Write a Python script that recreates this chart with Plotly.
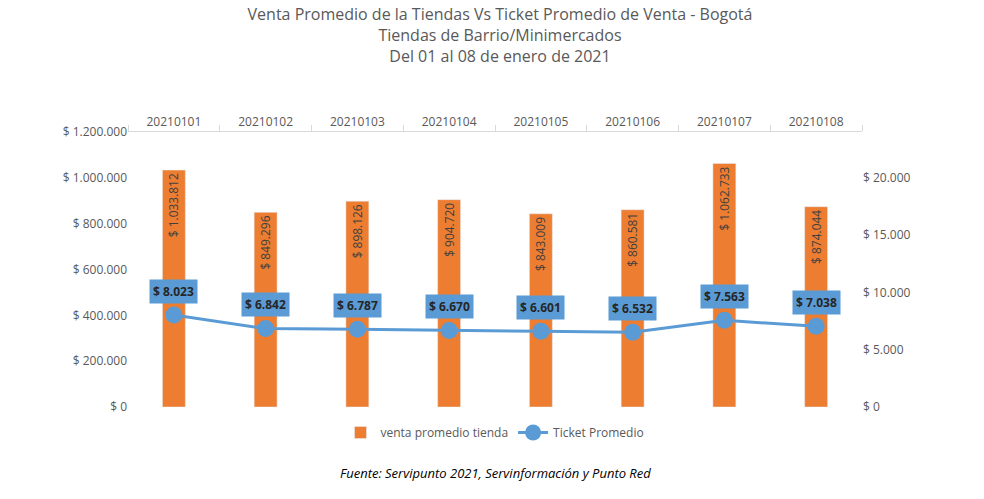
import plotly.graph_objects as go

categories = ["20210101","20210102","20210103","20210104","20210105","20210106","20210107","20210108"]
venta = [1033812, 849296, 898126, 904720, 843009, 860581, 1062733, 874044]
ticket = [8023, 6842, 6787, 6670, 6601, 6532, 7563, 7038]

def fmt(v):
    return "$ " + f"{v:,}".replace(",", ".")

xs = list(range(len(categories)))
fig = go.Figure()
fig.add_trace(go.Bar(x=xs, y=venta, name="venta promedio tienda", marker_color="#ED7D31",
                     width=0.25, text=[fmt(v) for v in venta], textposition="inside",
                     textangle=-90, insidetextanchor="end",
                     textfont=dict(color="#404040", size=12, family="Open Sans"), yaxis="y"))
fig.add_trace(go.Scatter(x=xs, y=ticket, name="Ticket Promedio", mode="lines+markers",
                         line=dict(color="#5B9BD5", width=3), marker=dict(size=17, color="#5B9BD5"),
                         yaxis="y2"))
for c, t in zip(xs, ticket):
    fig.add_annotation(x=c, y=t, xref="x", yref="y2", text="<b>" + fmt(t) + "</b>", showarrow=False, yshift=24,
                       bgcolor="#5B9BD5", font=dict(color="#262626", size=12, family="Open Sans"),
                       borderpad=3)
fig.add_annotation(x=0.5, y=-0.2, xref="paper", yref="paper", showarrow=False, yanchor="top",
                   text="<i>Fuente: Servipunto 2021, Servinformación y Punto Red</i>",
                   font=dict(size=13, color="#000000", family="Open Sans"))
fig.update_layout(
    width=984, height=499, plot_bgcolor="white", paper_bgcolor="white",
    margin=dict(l=120, r=130, t=124, b=100),
    title=dict(text="Venta Promedio de la Tiendas Vs Ticket Promedio de Venta - Bogotá<br>Tiendas de Barrio/Minimercados<br>Del 01 al 08 de enero de 2021",
               x=0.5, y=0.975, yanchor="top", font=dict(size=16, color="#595959", family="Open Sans")),
    font=dict(family="Open Sans", color="#595959", size=12),
    xaxis=dict(side="top", showline=True, linecolor="#D9D9D9", ticks="", range=[-0.5, 7.5],
               tickvals=xs, ticktext=categories, tickangle=0,
               minor=dict(tickvals=[i - 0.5 for i in range(9)], ticks="outside", ticklen=6, tickcolor="#D9D9D9")),
    yaxis=dict(range=[0, 1200000], tickvals=[0,200000,400000,600000,800000,1000000,1200000],
               ticktext=[fmt(v) for v in [0,200000,400000,600000,800000,1000000,1200000]],
               showgrid=False, zeroline=False),
    yaxis2=dict(range=[0, 24000], overlaying="y", side="right", tickvals=[0,5000,10000,15000,20000],
                ticktext=[fmt(v) for v in [0,5000,10000,15000,20000]], showgrid=False, zeroline=False),
    legend=dict(orientation="h", x=0.5, xanchor="center", y=-0.04, yanchor="top",
                font=dict(size=12, color="#595959")),
    bargap=0.75,
)
fig.write_html("out.html")
